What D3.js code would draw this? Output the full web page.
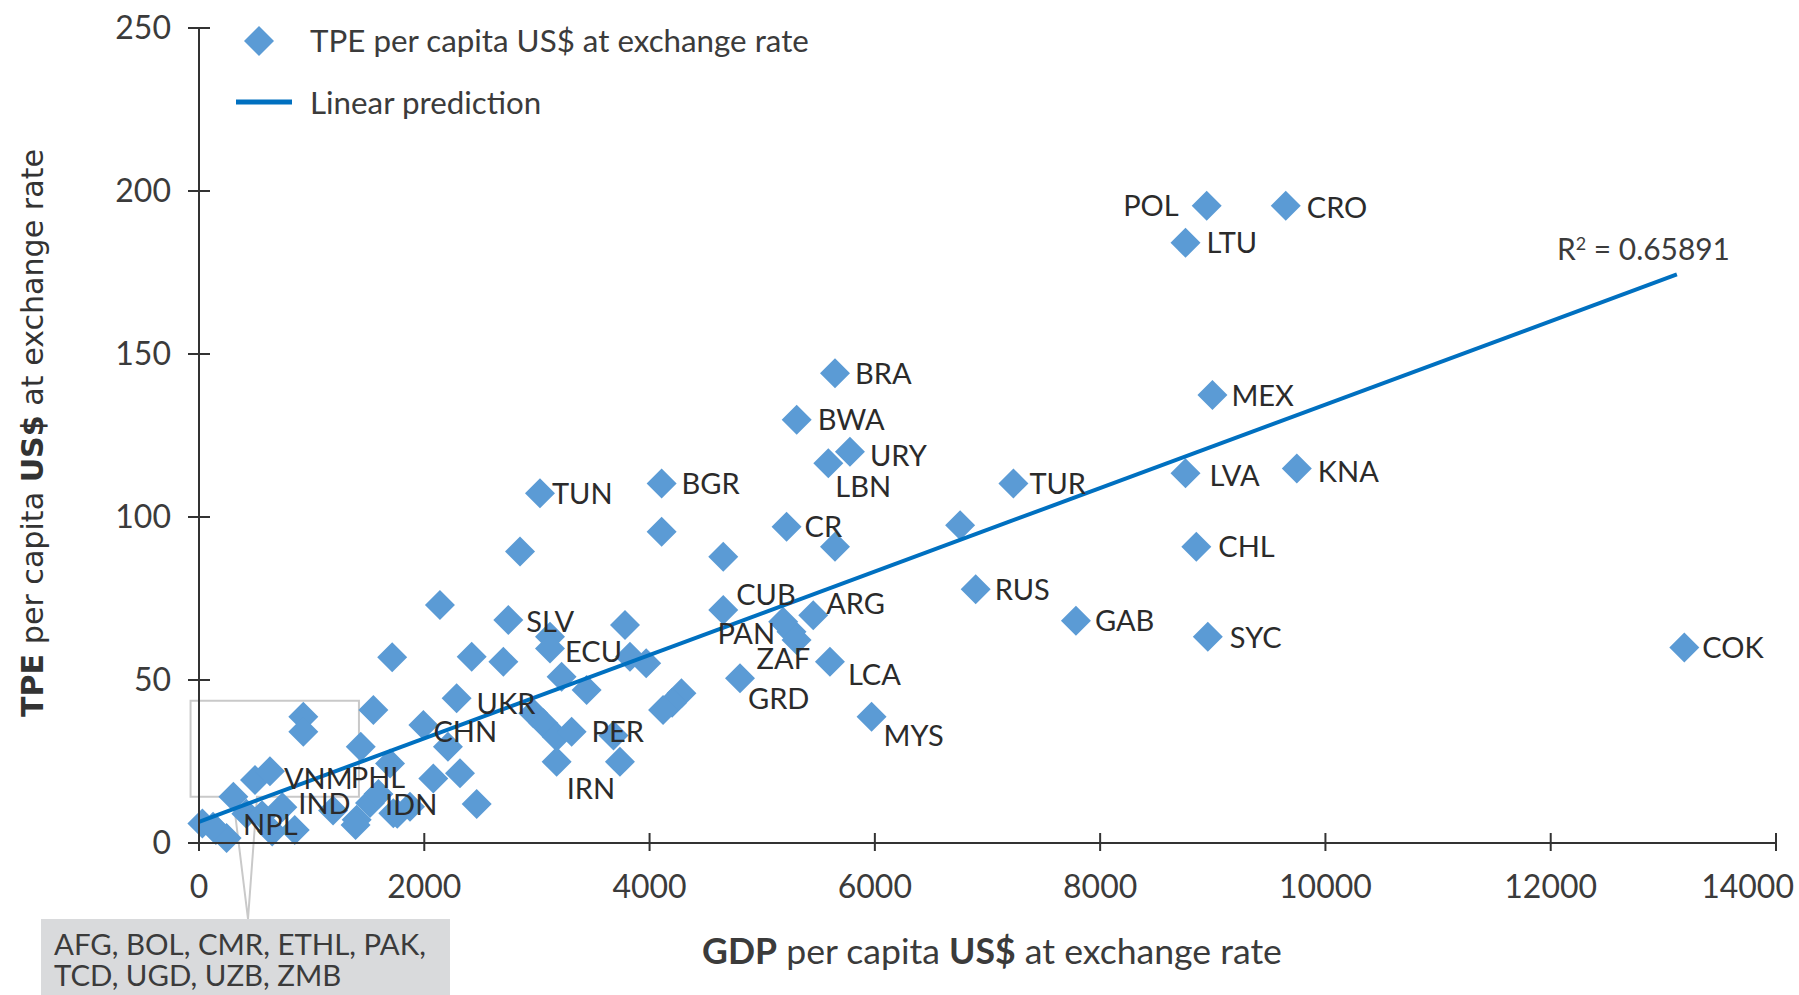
<!DOCTYPE html>
<html>
<head>
<meta charset="utf-8">
<script src="https://cdn.jsdelivr.net/npm/d3@7/dist/d3.min.js"></script>
<style>
  html, body { margin: 0; padding: 0; background: #fff; }
  svg { display: block; }
  .tickTxt { font-family: Lato, "Open Sans", sans-serif; fill: #3b3b3b; }
  .ctyLbl { font-family: Lato, "Open Sans", sans-serif; fill: #2b2b2b; }
</style>
</head>
<body>
<div id="chart"></div>
<script>
// labelled countries
var lblCodes = ["POL","CRO","LTU","BRA","MEX","BWA","URY","LBN","KNA","LVA","TUR","BGR","TUN","CR","CHL","RUS","CUB","ARG","SLV","GAB","PAN","SYC","ZAF","COK","ECU","LCA","GRD","UKR","MYS","CHN","PER","IRN","PHL","VNM","IDN","IND","NPL"];
var lblGdp = [8946,9648,8758,5646,8997,5306,5779,5587,9746,8758,7230,4107,3027,5216,8854,6895,4654,5453,2746,7785,5186,8956,5305,13186,3116,5601,4803,2287,5971,1992,3308,3175,1436,630,1873,740,125];
var lblTpe = [195.5,195.5,184.1,144.1,137.4,129.8,120.0,116.5,114.9,113.4,110.3,110.3,107.3,97.0,90.9,77.8,71.5,69.9,68.4,68.2,67.9,63.3,62.3,60.0,59.7,55.6,50.5,44.4,38.7,36.2,34.1,24.9,29.5,22.0,11.1,11.0,5.0];

// countries drawn without a label
var otherGdp = [6757,4107,5646,2850,4654,2139,3782,5260,3116,1715,2421,2702,3826,3970,3219,3441,4283,4200,4120,2968,3058,3175,3680,3737,2210,2317,2080,2465,1548,926,926,1696,497,305,1400,1518,1725,1593,30,150,245,420,560,650,850,1190,1390,1760];
var otherTpe = [97.5,95.5,90.9,89.4,87.8,73.0,66.9,64.8,63.3,57.0,57.1,55.6,57.1,55.1,51.0,46.9,45.9,43.0,40.8,39.8,36.7,32.6,33.0,24.9,29.5,21.4,19.8,12.0,40.8,38.7,34.1,24.4,19.3,14.2,7.1,12.3,9.1,15.0,6.0,4.0,1.5,9.0,8.5,3.5,4.0,10.0,5.5,9.0];

// linear prediction end points
var fitGdp = [0, 13120];
var fitTpe = [6.5, 174.4];
var r2Value = "0.65891";

var xTicks = [0,2000,4000,6000,8000,10000,12000,14000];
var yTicks = [0,50,100,150,200,250];

var groupedCodes = ["AFG, BOL, CMR, ETHL, PAK,", "TCD, UGD, UZB, ZMB"];
var zoomBoxGdp = [-75, 1420];
var zoomBoxTpe = [14.2, 43.6];

// where each country label sits relative to its diamond: dx, dy, anchor
var lblPos = {
  POL:[-28,0,"end"], CRO:[21,2], LTU:[21,0], MEX:[19,0], TUR:[16,0], LVA:[24,2], KNA:[21,3],
  CHL:[22,0], RUS:[19,0], GAB:[19,0], SYC:[22,1], COK:[18,0], BRA:[20,0], BWA:[21,0],
  URY:[20,4], LBN:[7,23], TUN:[12,0], BGR:[20,0], CR:[18,0], CUB:[13,-15], ARG:[13,-12],
  PAN:[-8,12,"end"], ZAF:[-40,19], LCA:[18,13], GRD:[8,20], MYS:[12,19], SLV:[18,2],
  ECU:[15,3], UKR:[20,5], CHN:[10,7], PER:[20,0], IRN:[10,27], VNM:[14,7], PHL:[-10,31],
  IND:[16,-4], IDN:[-25,-2], NPL:[30,-2]
};

var dotColor = "#5b9bd5";
var lineColor = "#0070c0";
var axisColor = "#333333";

function fitWidth(sel, w) {
  var len = sel.node().getComputedTextLength();
  var fs = parseFloat(sel.attr("font-size"));
  if (len > 0) sel.attr("font-size", (fs * w / len).toFixed(2));
}

function drawChart() {
  var W = 1799, H = 995;
  var svg = d3.select("#chart").append("svg")
    .attr("width", W).attr("height", H);

  var x = d3.scaleLinear().domain([0, 14000]).range([199, 1776]);
  var y = d3.scaleLinear().domain([0, 250]).range([843, 28]);

  var pts = [];
  otherGdp.forEach(function (g, i) { pts.push({gdp: g, tpe: otherTpe[i]}); });
  lblGdp.forEach(function (g, i) { pts.push({gdp: g, tpe: lblTpe[i], code: lblCodes[i]}); });

  var diamond = d3.symbol().type(d3.symbolSquare).size(450);

  // zoom box + callout
  var bx0 = x(zoomBoxGdp[0]), bx1 = x(zoomBoxGdp[1]);
  var by0 = y(zoomBoxTpe[1]), by1 = y(zoomBoxTpe[0]);
  svg.append("path")
    .attr("d", "M233," + by1 + "L" + bx0 + "," + by1 + "L" + bx0 + "," + by0 +
      "L" + bx1 + "," + by0 + "L" + bx1 + "," + by1 + "L257," + by1 +
      "L248,919L233," + by1)
    .attr("fill", "none").attr("stroke", "#c9c9c9").attr("stroke-width", 2);

  svg.append("rect")
    .attr("x", 41).attr("y", 919).attr("width", 409).attr("height", 80)
    .attr("fill", "#d9dadc");
  var g1 = svg.append("text").attr("class", "tickTxt")
    .attr("x", 54).attr("y", 945).attr("dy", "0.35em").attr("font-size", 25)
    .text(groupedCodes[0]);
  fitWidth(g1, 372);
  svg.append("text").attr("class", "tickTxt")
    .attr("x", 54).attr("y", 976).attr("dy", "0.35em").attr("font-size", g1.attr("font-size"))
    .text(groupedCodes[1]);

  // diamonds
  svg.append("g").selectAll("path")
    .data(pts).enter().append("path")
    .attr("d", diamond)
    .attr("transform", function (d) { return "translate(" + x(d.gdp) + "," + y(d.tpe) + ") rotate(45)"; })
    .attr("fill", dotColor);

  // linear prediction
  svg.append("line")
    .attr("x1", x(fitGdp[0])).attr("y1", y(fitTpe[0]))
    .attr("x2", x(fitGdp[1])).attr("y2", y(fitTpe[1]))
    .attr("stroke", lineColor).attr("stroke-width", 4);

  var r2 = svg.append("text").attr("class", "tickTxt")
    .attr("x", 1557).attr("y", 260).attr("font-size", 26);
  r2.append("tspan").text("R");
  r2.append("tspan").attr("font-size", "60%").attr("dy", -10).text("2");
  r2.append("tspan").attr("dy", 10).text(" = " + r2Value);
  fitWidth(r2, 173);

  // country labels
  svg.append("g").selectAll("text")
    .data(pts.filter(function (d) { return d.code; }))
    .enter().append("text")
    .attr("class", "ctyLbl")
    .attr("font-size", 29)
    .attr("x", function (d) { return x(d.gdp) + lblPos[d.code][0]; })
    .attr("y", function (d) { return y(d.tpe) + lblPos[d.code][1]; })
    .attr("dy", "0.36em")
    .attr("text-anchor", function (d) { return lblPos[d.code][2] || "start"; })
    .text(function (d) { return d.code; });

  // axes
  var ax = svg.append("g").attr("class", "axes");
  ax.append("line").attr("x1", x(0)).attr("x2", x(14000)).attr("y1", y(0)).attr("y2", y(0))
    .attr("stroke", axisColor).attr("stroke-width", 2);
  ax.append("line").attr("x1", x(0)).attr("x2", x(0)).attr("y1", y(250)).attr("y2", y(0) + 8)
    .attr("stroke", axisColor).attr("stroke-width", 2);

  ax.selectAll(".xt").data(xTicks).enter().append("line")
    .attr("x1", function (d) { return x(d); }).attr("x2", function (d) { return x(d); })
    .attr("y1", y(0) - 10).attr("y2", y(0) + 8)
    .attr("stroke", axisColor).attr("stroke-width", 2);
  ax.selectAll(".yt").data(yTicks).enter().append("line")
    .attr("x1", x(0) - 11).attr("x2", x(0) + 11)
    .attr("y1", function (d) { return y(d); }).attr("y2", function (d) { return y(d); })
    .attr("stroke", axisColor).attr("stroke-width", 2);

  var lastX = xTicks[xTicks.length - 1];
  ax.selectAll(".xl").data(xTicks).enter().append("text")
    .attr("class", "tickTxt").attr("font-size", 32)
    .attr("x", function (d) { return d === lastX ? 1794 : x(d); }).attr("y", 887).attr("dy", "0.35em")
    .attr("text-anchor", function (d) { return d === lastX ? "end" : "middle"; })
    .text(function (d) { return d; });
  ax.selectAll(".yl").data(yTicks).enter().append("text")
    .attr("class", "tickTxt").attr("font-size", 32)
    .attr("x", 171).attr("y", function (d) { return y(d); }).attr("dy", "0.35em")
    .attr("text-anchor", "end")
    .text(function (d) { return d; });

  // axis titles
  var xt = svg.append("text").attr("class", "tickTxt")
    .attr("x", 992).attr("y", 952).attr("dy", "0.35em").attr("text-anchor", "middle")
    .attr("font-size", 30);
  xt.append("tspan").attr("font-weight", "bold").text("GDP");
  xt.append("tspan").text(" per capita ");
  xt.append("tspan").attr("font-weight", "bold").text("US$");
  xt.append("tspan").text(" at exchange rate");
  fitWidth(xt, 580);

  var yt = svg.append("text")
    .attr("transform", "translate(32,433) rotate(-90)")
    .attr("text-anchor", "middle").attr("dy", "0.35em")
    .attr("font-family", "'DejaVu Sans', Verdana, sans-serif")
    .attr("fill", "#333").attr("font-size", 26);
  yt.append("tspan").attr("font-weight", "bold").text("TPE");
  yt.append("tspan").text(" per capita ");
  yt.append("tspan").attr("font-weight", "bold").text("US$");
  yt.append("tspan").text(" at exchange rate");
  fitWidth(yt, 568);

  // legend
  var lg = svg.append("g").attr("class", "legend");
  lg.append("path").attr("d", diamond)
    .attr("transform", "translate(259,41) rotate(45)").attr("fill", dotColor);
  lg.append("line").attr("x1", 236).attr("x2", 292).attr("y1", 102).attr("y2", 102)
    .attr("stroke", lineColor).attr("stroke-width", 5);
  var l1 = lg.append("text").attr("class", "tickTxt")
    .attr("x", 310).attr("y", 41).attr("dy", "0.35em").attr("font-size", 28)
    .text("TPE per capita US$ at exchange rate");
  fitWidth(l1, 499);
  var l2 = lg.append("text").attr("class", "tickTxt")
    .attr("x", 310).attr("y", 103).attr("dy", "0.35em").attr("font-size", l1.attr("font-size"))
    .text("Linear prediction");
}

drawChart();
</script>
</body>
</html>
